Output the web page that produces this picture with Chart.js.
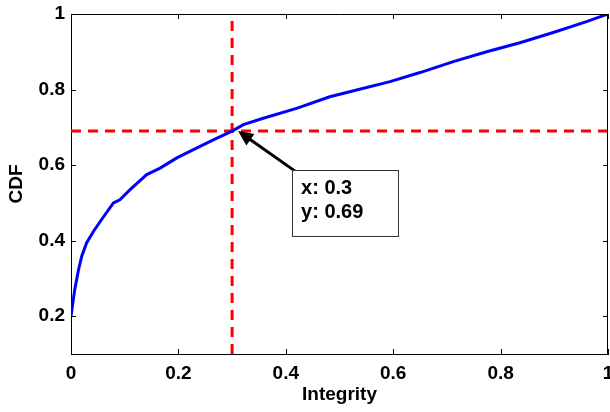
<!DOCTYPE html>
<html>
<head>
<meta charset="utf-8">
<script src="https://cdn.jsdelivr.net/npm/chart.js@4/dist/chart.umd.min.js"></script>
<style>
  html, body { margin: 0; padding: 0; background: #fff; }
  #wrap { width: 610px; height: 412px; }
</style>
</head>
<body>
<div id="wrap"><canvas id="myChart" width="610" height="412"></canvas></div>
<script>
// CDF of integrity values
const integrity = [0, 0.007, 0.014, 0.02, 0.029, 0.042, 0.057, 0.079, 0.091, 0.11,
    0.141, 0.166, 0.197, 0.228, 0.265, 0.3, 0.321, 0.358, 0.42, 0.482,
    0.532, 0.594, 0.65, 0.712, 0.774, 0.836, 0.898, 0.96, 0.994, 1];
const cdf = [0.2, 0.271, 0.323, 0.359, 0.394, 0.425, 0.456, 0.5, 0.508, 0.535,
    0.575, 0.592, 0.619, 0.641, 0.667, 0.69, 0.707, 0.724, 0.75, 0.781,
    0.799, 0.821, 0.845, 0.874, 0.9, 0.924, 0.951, 0.98, 0.997, 1];

// marked point (data tip + red guide lines)
const tipX = 0.3;
const tipY = 0.69;

const xTicks = [0, 0.2, 0.4, 0.6, 0.8, 1];
const xTickLabels = ['0', '0.2', '0.4', '0.6', '0.8', '1'];
const yTicks = [0.2, 0.4, 0.6, 0.8, 1];
const yTickLabels = ['0.2', '0.4', '0.6', '0.8', '1'];

const FONT = 'Arial, "Liberation Sans", Helvetica, sans-serif';

const curve = integrity.map((x, i) => ({ x: x, y: cdf[i] }));

// box on top/right, inward ticks, data tip
const matlabAxes = {
    id: 'matlabAxes',
    afterDraw(chart) {
        const ctx = chart.ctx;
        const a = chart.chartArea;
        const xs = chart.scales.x;
        const ys = chart.scales.y;
        ctx.save();
        ctx.strokeStyle = '#000';
        ctx.lineWidth = 1;
        ctx.beginPath();
        ctx.moveTo(a.left, a.top + 0.5);
        ctx.lineTo(a.right, a.top + 0.5);
        ctx.moveTo(a.right - 0.5, a.top);
        ctx.lineTo(a.right - 0.5, a.bottom);
        const tl = 5;
        xTicks.forEach(v => {
            const px = Math.round(xs.getPixelForValue(v)) + 0.5;
            ctx.moveTo(px, a.bottom); ctx.lineTo(px, a.bottom - tl);
            ctx.moveTo(px, a.top); ctx.lineTo(px, a.top + tl);
        });
        yTicks.forEach(v => {
            const py = Math.round(ys.getPixelForValue(v)) + 0.5;
            ctx.moveTo(a.left, py); ctx.lineTo(a.left + tl, py);
            ctx.moveTo(a.right, py); ctx.lineTo(a.right - tl, py);
        });
        ctx.stroke();

        // data tip
        const px = xs.getPixelForValue(tipX);
        const py = ys.getPixelForValue(tipY);
        const bx = px + 60, by = py + 39, bw = 106, bh = 66;
        const hx = px + 6, hy = py;
        const sx = bx + 3, sy = by + 1;
        const ang = Math.atan2(hy - sy, hx - sx);
        const hl = 15, hw = 7;
        ctx.strokeStyle = '#000';
        ctx.lineWidth = 3;
        ctx.beginPath();
        ctx.moveTo(sx, sy);
        ctx.lineTo(hx - Math.cos(ang) * (hl - 2), hy - Math.sin(ang) * (hl - 2));
        ctx.stroke();
        ctx.fillStyle = '#000';
        ctx.beginPath();
        ctx.moveTo(hx, hy);
        ctx.lineTo(hx - Math.cos(ang) * hl + Math.sin(ang) * hw, hy - Math.sin(ang) * hl - Math.cos(ang) * hw);
        ctx.lineTo(hx - Math.cos(ang) * hl - Math.sin(ang) * hw, hy - Math.sin(ang) * hl + Math.cos(ang) * hw);
        ctx.closePath();
        ctx.fill();

        ctx.fillStyle = '#fff';
        ctx.fillRect(bx, by, bw, bh);
        ctx.strokeStyle = '#333';
        ctx.lineWidth = 1;
        ctx.strokeRect(Math.round(bx) + 0.5, Math.round(by) + 0.5, bw, bh);
        ctx.fillStyle = '#000';
        ctx.font = 'bold 20px ' + FONT;
        ctx.textBaseline = 'alphabetic';
        ctx.fillText('x: ' + tipX, bx + 9, by + 24);
        ctx.fillText('y: ' + tipY, bx + 9, by + 48);
        ctx.restore();
    }
};

function initChart() {
    const ctx = document.getElementById('myChart').getContext('2d');
    return new Chart(ctx, {
        type: 'line',
        data: {
            datasets: [{
                label: 'CDF',
                data: curve,
                borderColor: '#0000ff',
                borderWidth: 3,
                pointRadius: 0,
                tension: 0,
                order: 0
            }, {
                label: 'x guide',
                data: [{ x: tipX, y: 0.1 }, { x: tipX, y: 1 }],
                borderColor: '#ff0000',
                borderWidth: 3,
                borderDash: [10, 7],
                pointRadius: 0,
                order: 1
            }, {
                label: 'y guide',
                data: [{ x: 0, y: tipY }, { x: 1, y: tipY }],
                borderColor: '#ff0000',
                borderWidth: 3,
                borderDash: [10, 7],
                pointRadius: 0,
                order: 1
            }]
        },
        options: {
            responsive: false,
            animation: false,
            layout: { padding: { top: 14, right: 2, left: 0, bottom: 0 } },
            plugins: {
                legend: { display: false },
                tooltip: { enabled: false }
            },
            scales: {
                x: {
                    type: 'linear',
                    min: 0,
                    max: 1,
                    afterBuildTicks: s => { s.ticks = xTicks.map(v => ({ value: v })); },
                    afterFit: s => { s.height = 58; s.paddingLeft = 0; s.paddingRight = 0; },
                    grid: { drawOnChartArea: false, drawTicks: false },
                    border: { display: true, color: '#000', width: 1 },
                    ticks: {
                        padding: 8,
                        color: '#000',
                        font: { family: FONT, size: 19, weight: 'bold' },
                        callback: (v, i) => xTickLabels[i]
                    },
                    title: {
                        display: true,
                        text: 'Integrity',
                        color: '#000',
                        font: { family: FONT, size: 19, weight: 'bold' },
                        padding: { top: 0, bottom: 6 }
                    }
                },
                y: {
                    type: 'linear',
                    min: 0.1,
                    max: 1,
                    afterBuildTicks: s => { s.ticks = yTicks.map(v => ({ value: v })); },
                    afterFit: s => { s.width = 71; s.paddingTop = 0; s.paddingBottom = 0; },
                    grid: { drawOnChartArea: false, drawTicks: false },
                    border: { display: true, color: '#000', width: 1 },
                    ticks: {
                        padding: 6,
                        color: '#000',
                        font: { family: FONT, size: 19, weight: 'bold' },
                        callback: (v, i) => yTickLabels[i]
                    },
                    title: {
                        display: true,
                        text: 'CDF',
                        color: '#000',
                        font: { family: FONT, size: 19, weight: 'bold' },
                        padding: { top: 5, bottom: 0 }
                    }
                }
            }
        },
        plugins: [matlabAxes]
    });
}

initChart();
</script>
</body>
</html>
